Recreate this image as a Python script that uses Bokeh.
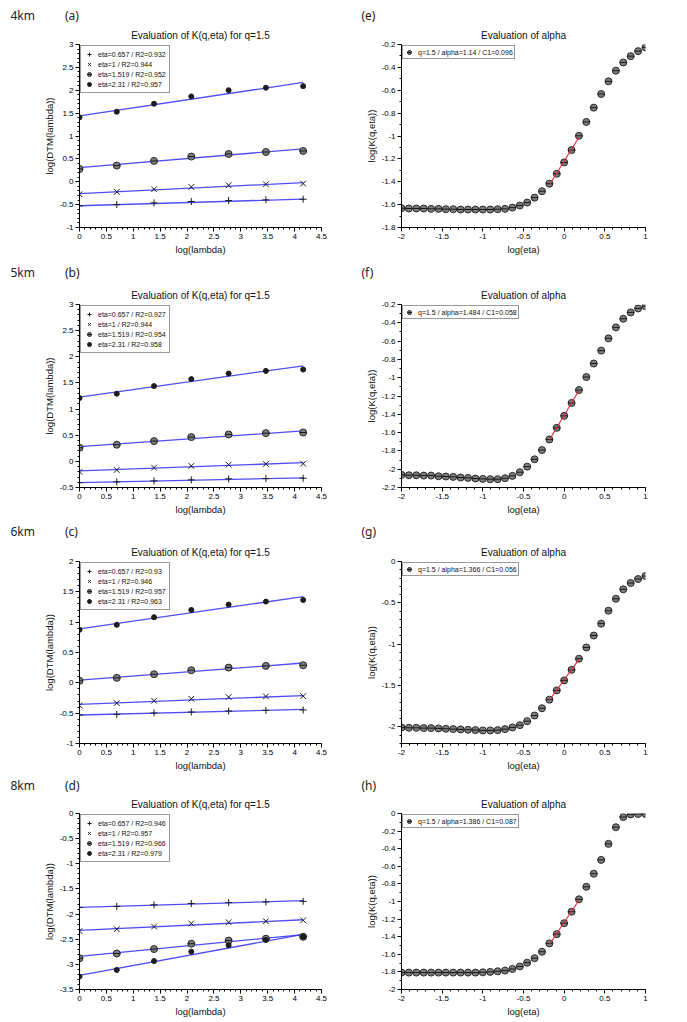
import numpy as np
from bokeh.plotting import figure
from bokeh.models import Range1d, FixedTicker, Title, Legend, LegendItem
from bokeh.layouts import column, row
from bokeh.embed import file_html
from bokeh.resources import INLINE

# ---------------- data ----------------
log_lambda = [0.0, 0.693, 1.386, 2.079, 2.773, 3.466, 4.159]
eta_names = ["eta=0.657", "eta=1", "eta=1.519", "eta=2.31"]

# (a) 4km
a_r2 = ["0.932", "0.944", "0.952", "0.957"]
a_eta0657 = [-0.527, -0.498, -0.462, -0.433, -0.411, -0.396, -0.382]
a_eta1 = [-0.273, -0.222, -0.164, -0.113, -0.076, -0.055, -0.040]
a_eta1519 = [0.280, 0.353, 0.455, 0.550, 0.607, 0.650, 0.673]
a_eta231 = [1.407, 1.530, 1.705, 1.865, 2.000, 2.055, 2.090]
a_intercept = [-0.525, -0.260, 0.310, 1.440]
a_slope = [0.035, 0.058, 0.0986, 0.1755]

# (b) 5km
b_r2 = ["0.927", "0.944", "0.954", "0.958"]
b_eta0657 = [-0.405, -0.392, -0.374, -0.354, -0.335, -0.329, -0.323]
b_eta1 = [-0.200, -0.164, -0.120, -0.088, -0.063, -0.050, -0.044]
b_eta1519 = [0.260, 0.318, 0.387, 0.464, 0.514, 0.540, 0.552]
b_eta231 = [1.210, 1.294, 1.440, 1.573, 1.680, 1.730, 1.757]
b_intercept = [-0.405, -0.183, 0.280, 1.230]
b_slope = [0.0214, 0.038, 0.073, 0.1435]

# (c) 6km
c_r2 = ["0.93", "0.946", "0.957", "0.963"]
c_eta0657 = [-0.530, -0.519, -0.497, -0.481, -0.464, -0.454, -0.448]
c_eta1 = [-0.372, -0.333, -0.295, -0.262, -0.235, -0.224, -0.219]
c_eta1519 = [0.033, 0.082, 0.142, 0.208, 0.251, 0.279, 0.290]
c_eta231 = [0.874, 0.956, 1.082, 1.202, 1.290, 1.339, 1.366]
c_intercept = [-0.530, -0.355, 0.044, 0.890]
c_slope = [0.022, 0.035, 0.068, 0.1275]

# (d) 8km
d_r2 = ["0.946", "0.957", "0.966", "0.979"]
d_eta0657 = [-1.867, -1.848, -1.816, -1.790, -1.772, -1.760, -1.747]
d_eta1 = [-2.338, -2.300, -2.250, -2.187, -2.162, -2.143, -2.124]
d_eta1519 = [-2.879, -2.784, -2.696, -2.590, -2.527, -2.489, -2.451]
d_eta231 = [-3.243, -3.111, -2.935, -2.747, -2.621, -2.514, -2.451]
d_intercept = [-1.867, -2.325, -2.840, -3.218]
d_slope = [0.032, 0.051, 0.104, 0.196]

# right column: log(eta) grid and log(K(q,eta))
log_eta = [-2.0, -1.909, -1.818, -1.727, -1.636, -1.545, -1.455, -1.364, -1.273, -1.182,
           -1.091, -1.0, -0.909, -0.818, -0.727, -0.636, -0.545, -0.455, -0.364, -0.273,
           -0.182, -0.091, 0.0, 0.091, 0.182, 0.273, 0.364, 0.455, 0.545, 0.636,
           0.727, 0.818, 0.909, 1.0]
fit_index = [20, 21, 22, 23, 24]

e_logK = [-1.631, -1.634, -1.634, -1.634, -1.637, -1.637, -1.640, -1.640, -1.643, -1.643,
          -1.643, -1.643, -1.643, -1.640, -1.637, -1.626, -1.608, -1.582, -1.539, -1.483,
          -1.417, -1.330, -1.231, -1.123, -0.998, -0.877, -0.752, -0.633, -0.522, -0.429,
          -0.357, -0.302, -0.258, -0.226]
f_logK = [-2.062, -2.066, -2.066, -2.070, -2.070, -2.077, -2.080, -2.084, -2.091, -2.095,
          -2.102, -2.106, -2.109, -2.109, -2.099, -2.073, -2.033, -1.972, -1.892, -1.791,
          -1.675, -1.548, -1.417, -1.276, -1.135, -0.993, -0.845, -0.704, -0.570, -0.450,
          -0.356, -0.287, -0.243, -0.218]
g_logK = [-2.006, -2.010, -2.010, -2.014, -2.014, -2.018, -2.022, -2.026, -2.030, -2.034,
          -2.038, -2.042, -2.042, -2.038, -2.026, -2.006, -1.978, -1.930, -1.862, -1.774,
          -1.670, -1.558, -1.438, -1.310, -1.175, -1.039, -0.895, -0.751, -0.595, -0.451,
          -0.336, -0.260, -0.212, -0.176]
h_logK = [-1.808, -1.808, -1.808, -1.808, -1.808, -1.808, -1.808, -1.808, -1.808, -1.808,
          -1.808, -1.805, -1.800, -1.793, -1.785, -1.767, -1.738, -1.695, -1.644, -1.571,
          -1.476, -1.371, -1.247, -1.116, -0.975, -0.833, -0.684, -0.527, -0.345, -0.156,
          -0.040, -0.010, -0.005, -0.005]
right_legends = ["q=1.5 / alpha=1.14 / C1=0.096", "q=1.5 / alpha=1.484 / C1=0.058",
                 "q=1.5 / alpha=1.366 / C1=0.056", "q=1.5 / alpha=1.386 / C1=0.087"]

# tick values / labels
x_left_ticks = [0, 0.5, 1, 1.5, 2, 2.5, 3, 3.5, 4, 4.5]
x_left_labels = ["0", "0.5", "1", "1.5", "2", "2.5", "3", "3.5", "4", "4.5"]
x_right_ticks = [-2, -1.5, -1, -0.5, 0, 0.5, 1]
x_right_labels = ["-2", "-1.5", "-1", "-0.5", "0", "0.5", "1"]
a_yticks = [-1, -0.5, 0, 0.5, 1, 1.5, 2, 2.5, 3]
a_ylabels = ["-1", "-0.5", "0", "0.5", "1", "1.5", "2", "2.5", "3"]
b_yticks = [-0.5, 0, 0.5, 1, 1.5, 2, 2.5, 3]
b_ylabels = ["-0.5", "0", "0.5", "1", "1.5", "2", "2.5", "3"]
c_yticks = [-1, -0.5, 0, 0.5, 1, 1.5, 2]
c_ylabels = ["-1", "-0.5", "0", "0.5", "1", "1.5", "2"]
d_yticks = [-3.5, -3, -2.5, -2, -1.5, -1, -0.5, 0]
d_ylabels = ["-3.5", "-3", "-2.5", "-2", "-1.5", "-1", "-0.5", "0"]
e_yticks = [-1.8, -1.6, -1.4, -1.2, -1.0, -0.8, -0.6, -0.4, -0.2]
e_ylabels = ["-1.8", "-1.6", "-1.4", "-1.2", "-1", "-0.8", "-0.6", "-0.4", "-0.2"]
f_yticks = [-2.2, -2.0, -1.8, -1.6, -1.4, -1.2, -1.0, -0.8, -0.6, -0.4, -0.2]
f_ylabels = ["-2.2", "-2", "-1.8", "-1.6", "-1.4", "-1.2", "-1", "-0.8", "-0.6", "-0.4", "-0.2"]
g_yticks = [-2, -1.5, -1, -0.5, 0]
g_ylabels = ["-2", "-1.5", "-1", "-0.5", "0"]
h_yticks = [-2.0, -1.8, -1.6, -1.4, -1.2, -1.0, -0.8, -0.6, -0.4, -0.2, 0]
h_ylabels = ["-2", "-1.8", "-1.6", "-1.4", "-1.2", "-1", "-0.8", "-0.6", "-0.4", "-0.2", "0"]

# ---------------- style ----------------
FONT = "Liberation Sans"
HFONT = "Noto Sans"
TXT = "#111111"
BLUE = "#3b3bf2"
RED = "#e3243b"
MK = "#1c1c1c"

WL, WR = 350, 315           # figure widths
BL_L, BR_L = 79, 29         # left figure borders (frame 242 px)
BL_R, BR_R = 51, 20         # right figure borders (frame 244 px)


def minor_list(lo, hi, step):
    n = int(round((hi - lo) / step))
    return [round(lo + i * step, 4) for i in range(n + 1)]


def base_fig(width, bl, br, lay, xr, yr, title, header, head_off):
    T, H, B, s_t, s_h = lay
    p = figure(width=width, height=T + H + B, x_range=Range1d(*xr), y_range=Range1d(*yr),
               output_backend="svg", toolbar_location=None, title=None,
               min_border_left=bl, min_border_right=br, min_border_top=T, min_border_bottom=B)
    p.outline_line_color = None
    p.xgrid.visible = False
    p.ygrid.visible = False
    p.background_fill_color = "white"
    p.border_fill_color = "white"
    t1 = Title(text=title, align="center", text_font=FONT, text_font_size="10px",
               text_font_style="normal", text_color=TXT, standoff=s_t)
    p.add_layout(t1, "above")
    t2 = Title(text=header, align="left", offset=head_off, text_font=HFONT,
               text_font_size="12px", text_font_style="normal", text_color="#222222",
               standoff=s_h)
    p.add_layout(t2, "above")
    return p


def style_axes(p, xt, xl, xmin, yt, yl, ymin, xlab, ylab):
    for ax in (p.xaxis[0], p.yaxis[0]):
        ax.axis_line_color = "#000000"
        ax.axis_line_width = 1
        ax.major_tick_line_color = "#000000"
        ax.minor_tick_line_color = "#000000"
        ax.major_tick_out = 4
        ax.major_tick_in = 0
        ax.minor_tick_out = 2
        ax.minor_tick_in = 0
        ax.major_label_text_font = FONT
        ax.major_label_text_font_size = "8px"
        ax.major_label_text_color = "#000000"
        ax.major_label_standoff = 2
        ax.axis_label_text_font = FONT
        ax.axis_label_text_font_size = "9.5px"
        ax.axis_label_text_font_style = "normal"
        ax.axis_label_text_color = TXT
        ax.axis_label_standoff = 2
    p.xaxis[0].ticker = FixedTicker(ticks=xt, minor_ticks=xmin)
    p.xaxis[0].major_label_overrides = {float(v): s for v, s in zip(xt, xl)}
    p.yaxis[0].ticker = FixedTicker(ticks=yt, minor_ticks=ymin)
    p.yaxis[0].major_label_overrides = {float(v): s for v, s in zip(yt, yl)}
    p.xaxis[0].axis_label = xlab
    p.yaxis[0].axis_label = ylab


def circ_dash(p, x, y, size):
    r1 = p.scatter(x, y, marker="circle", size=size, fill_color="#7d7d7d",
                   line_color="#2a2a2a", line_width=1)
    r2 = p.scatter(x, y, marker="dash", size=size, line_color="#1a1a1a", line_width=1)
    return [r1, r2]


def make_legend(p, items, row_h, pad):
    lg = Legend(items=items, location="top_left", label_text_font=FONT,
                label_text_font_size="7px", label_text_color=TXT, label_height=row_h,
                glyph_height=row_h, glyph_width=10, label_standoff=4, padding=pad,
                spacing=0, margin=1, border_line_color="#333333", border_line_width=1,
                background_fill_color="white", background_fill_alpha=1.0)
    p.add_layout(lg)


def left_panel(header, series, r2, icpt, slope, yr, yt, yl, lay):
    p = base_fig(WL, BL_L, BR_L, lay, (0, 4.5), yr,
                 "Evaluation of K(q,eta) for q=1.5", header, -69)
    style_axes(p, x_left_ticks, x_left_labels, minor_list(0, 4.5, 0.1),
               yt, yl, minor_list(yr[0], yr[1], 0.1), "log(lambda)", "log(DTM(lambda))")
    x_end = log_lambda[-1]
    for i in range(4):
        p.line([0, x_end], [icpt[i], icpt[i] + slope[i] * x_end], line_color=BLUE,
               line_width=1.3, line_alpha=0.9)
    items = []
    r = p.scatter(log_lambda, series[0], marker="cross", size=7, line_color=MK, line_width=1)
    items.append(LegendItem(label=f"{eta_names[0]} / R2={r2[0]}", renderers=[r]))
    r = p.scatter(log_lambda, series[1], marker="x", size=8, line_color=MK, line_width=1)
    items.append(LegendItem(label=f"{eta_names[1]} / R2={r2[1]}", renderers=[r]))
    rr = circ_dash(p, log_lambda, series[2], 7)
    items.append(LegendItem(label=f"{eta_names[2]} / R2={r2[2]}", renderers=rr))
    r = p.scatter(log_lambda, series[3], marker="circle", size=5, fill_color=MK,
                  line_color=MK, line_width=1)
    items.append(LegendItem(label=f"{eta_names[3]} / R2={r2[3]}", renderers=[r]))
    make_legend(p, items, 10, 3)
    return p


def right_panel(header, logK, legend_label, yr, yt, yl, lay):
    p = base_fig(WR, BL_R, BR_R, lay, (-2, 1), yr, "Evaluation of alpha", header, -40)
    style_axes(p, x_right_ticks, x_right_labels, minor_list(-2, 1, 0.1),
               yt, yl, minor_list(yr[0], yr[1], 0.1), "log(eta)", "log(K(q,eta))")
    fx = [log_eta[i] for i in fit_index]
    fy = [logK[i] for i in fit_index]
    k, c = np.polyfit(fx, fy, 1)
    rr = circ_dash(p, log_eta, logK, 7)
    p.line([fx[0], fx[-1]], [k * fx[0] + c, k * fx[-1] + c], line_color=RED, line_width=1.1)
    make_legend(p, [LegendItem(label=legend_label, renderers=rr)], 10, 1)
    return p


# row layouts: (top border, frame height, bottom border, title standoff, header standoff)
LAY_A = (44, 183, 32, 8, 0)
LAY_B = (44, 184, 33, 8, 5)
LAY_C = (40, 183, 31, 8, 1)
LAY_D = (36, 179, 32, 7, 0)

SP = "\u2003\u2003\u2002"
pa = left_panel("4km" + SP + "(a)", [a_eta0657, a_eta1, a_eta1519, a_eta231],
                a_r2, a_intercept, a_slope, (-1, 3), a_yticks, a_ylabels, LAY_A)
pe = right_panel("(e)", e_logK, right_legends[0], (-1.8, -0.2), e_yticks, e_ylabels, LAY_A)
pb = left_panel("5km" + SP + "(b)", [b_eta0657, b_eta1, b_eta1519, b_eta231],
                b_r2, b_intercept, b_slope, (-0.5, 3), b_yticks, b_ylabels, LAY_B)
pf = right_panel("(f)", f_logK, right_legends[1], (-2.2, -0.2), f_yticks, f_ylabels, LAY_B)
pc = left_panel("6km" + SP + "(c)", [c_eta0657, c_eta1, c_eta1519, c_eta231],
                c_r2, c_intercept, c_slope, (-1, 2), c_yticks, c_ylabels, LAY_C)
pg = right_panel("(g)", g_logK, right_legends[2], (-2.2, 0), g_yticks, g_ylabels, LAY_C)
pd = left_panel("8km" + SP + "(d)", [d_eta0657, d_eta1, d_eta1519, d_eta231],
                d_r2, d_intercept, d_slope, (-3.5, 0), d_yticks, d_ylabels, LAY_D)
ph = right_panel("(h)", h_logK, right_legends[3], (-2, 0), h_yticks, h_ylabels, LAY_D)

layout = column(row(pa, pe), row(pb, pf), row(pc, pg), row(pd, ph), spacing=0)
open("out.html", "w").write(file_html(layout, INLINE))
